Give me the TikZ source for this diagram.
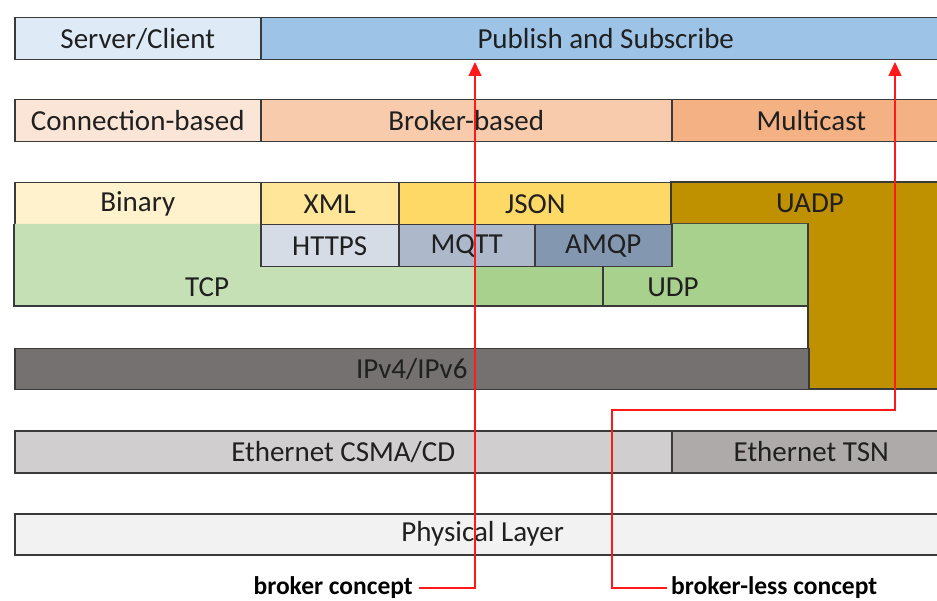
\documentclass[tikz,border=0pt]{standalone}
\usepackage{fontspec}
\setmainfont{Carlito}
\usetikzlibrary{arrows.meta}
\definecolor{bordergray}{HTML}{3A3A3A}
\definecolor{textgray}{HTML}{202020}
\definecolor{cSC}{HTML}{DEEBF7}
\definecolor{cPS}{HTML}{9DC3E6}
\definecolor{cCB}{HTML}{FBE5D6}
\definecolor{cBB}{HTML}{F8CBAD}
\definecolor{cMC}{HTML}{F4B183}
\definecolor{cBin}{HTML}{FFF2CC}
\definecolor{cXML}{HTML}{FFE699}
\definecolor{cJSON}{HTML}{FFD966}
\definecolor{cUADP}{HTML}{BF9000}
\definecolor{cHTTPS}{HTML}{D6DCE5}
\definecolor{cMQTT}{HTML}{ADB9CA}
\definecolor{cAMQP}{HTML}{8497B0}
\definecolor{cTCP}{HTML}{C5E0B4}
\definecolor{cUDP}{HTML}{A9D18E}
\definecolor{cIP}{HTML}{767171}
\definecolor{cETH}{HTML}{D0CECE}
\definecolor{cTSN}{HTML}{AEAAAA}
\definecolor{cPHY}{HTML}{F2F2F2}
\definecolor{arrowred}{HTML}{FF1A1A}
\begin{document}
\begin{tikzpicture}[x=1pt,y=-1pt,
  layer/.style={draw=bordergray, line width=1.5pt},
  lbl/.style={font=\fontsize{29}{30}\selectfont, text=textgray, inner sep=0pt},
  layerbox/.style={layer, lbl, anchor=north west},
  note/.style={font=\bfseries\fontsize{25.5}{26}\selectfont, text=black, inner sep=0pt},
  concept/.style={draw=arrowred, line width=1.3pt, -{Triangle[width=13pt,length=14pt]}}]
\useasboundingbox (0,0) rectangle (937,601);

% Row 1
\node[layerbox, fill=cSC, minimum width=246pt, minimum height=42pt] (sc) at (14,17) {Server/Client};
\node[layerbox, fill=cPS, minimum width=690pt, minimum height=42pt] (ps) at (260,17) {Publish and Subscribe};

% Row 2
\node[layerbox, fill=cCB, minimum width=246pt, minimum height=42pt] (cb) at (14,99) {Connection-based};
\node[layerbox, fill=cBB, minimum width=411pt, minimum height=42pt] (bb) at (260,99) {Broker-based};
\node[layerbox, fill=cMC, minimum width=279pt, minimum height=42pt] (mc) at (671,99) {Multicast};

% Row 3: encodings
\node[layerbox, fill=cBin, minimum width=246pt, minimum height=42pt] (bin) at (14,182) {Binary};
\node[layerbox, fill=cXML, minimum width=138pt, minimum height=42pt] (xml) at (260,182) {XML};
\node[layerbox, fill=cJSON, minimum width=273pt, minimum height=42pt] (json) at (398,182) {JSON};

% UADP (L-shaped)
\draw[layer, fill=cUADP] (671,182) -- (950,182) -- (950,389) -- (808,389) -- (808,224) -- (671,224) -- cycle;
\node[lbl] (uadp) at (810,203) {UADP};

% TCP / UDP region
\fill[cTCP] (14,224) -- (260,224) -- (260,266) -- (474,266) -- (474,306) -- (14,306) -- cycle;
\fill[cUDP] (474,266) -- (671,266) -- (671,224) -- (808,224) -- (808,306) -- (474,306) -- cycle;
\draw[layer] (14,224) -- (14,306) -- (808,306) -- (808,224);
\draw[layer] (603,266) -- (603,306);
\node[lbl] (tcp) at (207,287) {TCP};
\node[lbl] (udp) at (673,287) {UDP};

% Application protocols
\node[layerbox, fill=cHTTPS, minimum width=138pt, minimum height=42pt] (https) at (260,224) {HTTPS};
\node[layerbox, fill=cMQTT, minimum width=136pt, minimum height=42pt] (mqtt) at (398,224) {MQTT};
\node[layerbox, fill=cAMQP, minimum width=137pt, minimum height=42pt] (amqp) at (534,224) {AMQP};

% IP
\node[layerbox, fill=cIP, minimum width=794pt, minimum height=41pt] (ip) at (14,348) {IPv4/IPv6};

% Ethernet
\node[layerbox, fill=cETH, minimum width=657pt, minimum height=42pt] (eth) at (14,430) {Ethernet CSMA/CD};
\node[layerbox, fill=cTSN, minimum width=279pt, minimum height=42pt] (tsn) at (671,430) {Ethernet TSN};

% Physical
\node[layerbox, fill=cPHY, minimum width=936pt, minimum height=41pt] (phy) at (14,513) {Physical Layer};

% Concepts
\node[note, anchor=east] (bc) at (413,588) {broker concept};
\node[note, anchor=west] (blc) at (671,588) {broker-less concept};
\coordinate (bctip) at (475,62);
\coordinate (blbend) at (612,410);
\coordinate (bltip) at (895,62);
\draw[concept] ([xshift=6pt]bc.east) -| (bctip);
\draw[concept] ([xshift=-4pt]blc.west) -| (blbend) -| (bltip);
\end{tikzpicture}
\end{document}
